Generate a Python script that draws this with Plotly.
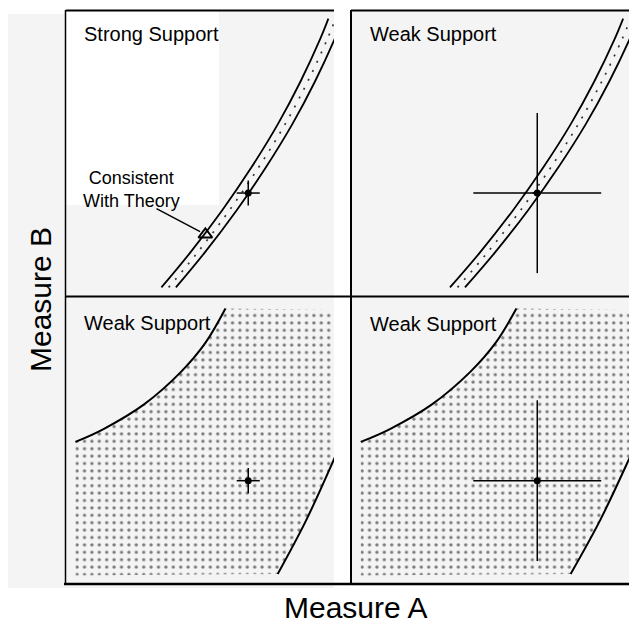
import plotly.graph_objects as go

W, H = 629, 624

# ---- data (nominal 0-10 measurement scales) ----
band_y = [0.3, 1.5, 3.0, 4.5, 6.0, 7.5, 9.0, 9.7]
band_left_x = [3.56, 4.62, 5.83, 6.92, 7.90, 8.75, 9.49, 9.79]
band_center_x = [3.83, 4.89, 6.10, 7.19, 8.17, 9.02, 9.76, 10.06]
band_right_x = [4.10, 5.16, 6.37, 7.46, 8.44, 9.29, 10.03, 10.33]

outer_upper_x = [0.35, 1.4, 2.9, 4.3, 5.2, 5.95]
outer_upper_y = [4.95, 5.4, 6.25, 7.4, 8.4, 9.6]
outer_lower_x = [7.9, 8.95, 10.0, 10.3]
outer_lower_y = [0.35, 2.2, 4.35, 5.0]
region_left, region_right, region_bottom, region_top = 0.35, 10.0, 0.3, 9.55

precise_x, precise_y = [6.8], [3.6]
precise_err_x, precise_err_y = 0.43, 0.44
imprecise_x, imprecise_y = [6.7], [3.6]
imprecise_err_x, imprecise_err_y = 2.3, 2.8

theory_point_x, theory_point_y = [5.2], [2.15]
arrow_tail = (3.32, 3.08)

panel_titles = ["Strong Support", "Weak Support", "Weak Support", "Weak Support"]

# ---- layout helpers ----
def px_x(p):
    return p / W

def px_y(p):
    return 1 - p / H

panels = {  # left, right, top, bottom in px
    1: (66, 334, 10, 296),
    2: (351, 629, 10, 296),
    3: (66, 334, 297, 584),
    4: (351, 629, 297, 584),
}

FONT = "Arial, Liberation Sans, sans-serif"
fig = go.Figure()

def ax(i):
    return ("x" if i == 1 else f"x{i}"), ("y" if i == 1 else f"y{i}")

for i in (1, 2):
    xa, ya = ax(i)
    fig.add_trace(go.Scatter(x=band_left_x, y=band_y, mode="lines", line=dict(color="black", width=1.8, shape="spline"),
                             xaxis=xa, yaxis=ya, showlegend=False, hoverinfo="skip"))
    fig.add_trace(go.Scatter(x=band_right_x, y=band_y, mode="lines", line=dict(color="black", width=1.8, shape="spline"),
                             xaxis=xa, yaxis=ya, showlegend=False, hoverinfo="skip"))
    fig.add_trace(go.Scatter(x=band_center_x, y=band_y, mode="lines",
                             line=dict(color="#333", width=1.7, dash="2px,8px", shape="spline"),
                             xaxis=xa, yaxis=ya, showlegend=False, hoverinfo="skip"))

for i in (3, 4):
    xa, ya = ax(i)
    rx = [region_left] + outer_upper_x + [region_right, region_right] + [outer_lower_x[1], outer_lower_x[0]] + [region_left]
    ry = [outer_upper_y[0]] + outer_upper_y + [region_top, outer_lower_y[2]] + [outer_lower_y[1], outer_lower_y[0]] + [region_bottom]
    fig.add_trace(go.Scatter(x=rx, y=ry, mode="lines", fill="toself", line=dict(width=0, color="rgba(0,0,0,0)"),
                             fillcolor="rgba(0,0,0,0)",
                             fillpattern=dict(shape=".", size=7.4, solidity=0.16, fgcolor="#000",
                                              bgcolor="rgba(0,0,0,0)"),
                             xaxis=xa, yaxis=ya, showlegend=False, hoverinfo="skip"))
    fig.add_trace(go.Scatter(x=outer_upper_x, y=outer_upper_y, mode="lines", line=dict(color="black", width=2, shape="spline"),
                             xaxis=xa, yaxis=ya, showlegend=False, hoverinfo="skip"))
    fig.add_trace(go.Scatter(x=outer_lower_x, y=outer_lower_y, mode="lines", line=dict(color="black", width=2, shape="spline"),
                             xaxis=xa, yaxis=ya, showlegend=False, hoverinfo="skip"))

# measurements
for i, (mx, my, ex, ey) in {
    1: (precise_x, precise_y, precise_err_x, precise_err_y),
    2: (imprecise_x, imprecise_y, imprecise_err_x, imprecise_err_y),
    3: (precise_x, precise_y, precise_err_x, precise_err_y),
    4: (imprecise_x, imprecise_y, imprecise_err_x, imprecise_err_y),
}.items():
    xa, ya = ax(i)
    fig.add_trace(go.Scatter(x=mx, y=my, mode="markers", marker=dict(color="black", size=7),
                             error_x=dict(type="constant", value=ex, color="black", thickness=1.5, width=0),
                             error_y=dict(type="constant", value=ey, color="black", thickness=1.5, width=0),
                             xaxis=xa, yaxis=ya, showlegend=False, hoverinfo="skip"))

fig.add_trace(go.Scatter(x=theory_point_x, y=theory_point_y, mode="markers",
                         marker=dict(symbol="triangle-up-open", size=12, color="black", line=dict(width=2, color="black")),
                         xaxis="x", yaxis="y", showlegend=False, hoverinfo="skip"))

# axes
layout_axes = {}
for i, (l, r, t, b) in panels.items():
    xname = "xaxis" if i == 1 else f"xaxis{i}"
    yname = "yaxis" if i == 1 else f"yaxis{i}"
    xa, ya = ax(i)
    layout_axes[xname] = dict(domain=[px_x(l), px_x(r)], range=[0, 10], showgrid=False, zeroline=False,
                              showticklabels=False, ticks="", showline=False, anchor=ya, fixedrange=True)
    layout_axes[yname] = dict(domain=[px_y(b), px_y(t)], range=[0, 10], showgrid=False, zeroline=False,
                              showticklabels=False, ticks="", showline=False, anchor=xa, fixedrange=True)

GRAY = "#f4f4f4"
shapes = [
    dict(type="rect", xref="paper", yref="paper", x0=px_x(8), x1=px_x(334), y0=px_y(588), y1=px_y(14),
         fillcolor=GRAY, line=dict(width=0), layer="below"),
    dict(type="rect", xref="paper", yref="paper", x0=px_x(66), x1=px_x(334), y0=px_y(588), y1=px_y(10),
         fillcolor=GRAY, line=dict(width=0), layer="below"),
    dict(type="rect", xref="paper", yref="paper", x0=px_x(351), x1=px_x(629), y0=px_y(586), y1=px_y(10),
         fillcolor=GRAY, line=dict(width=0), layer="below"),
    dict(type="rect", xref="paper", yref="paper", x0=px_x(66), x1=px_x(219), y0=px_y(205), y1=px_y(10),
         fillcolor="white", line=dict(width=0), layer="below"),
]

def hline(x0, x1, y, w):
    return dict(type="line", xref="paper", yref="paper", x0=px_x(x0), x1=px_x(x1), y0=px_y(y), y1=px_y(y),
                line=dict(color="black", width=w))

def vline(x, y0, y1, w):
    return dict(type="line", xref="paper", yref="paper", x0=px_x(x), x1=px_x(x), y0=px_y(y0), y1=px_y(y1),
                line=dict(color="black", width=w))

shapes += [
    hline(66, 334, 10.5, 2), hline(351, 629, 10.5, 2),
    hline(66, 629, 296.5, 2), hline(64, 629, 584, 2.5),
    vline(65.5, 10, 585, 1.5), vline(351, 10, 585, 2),
]

annotations = []
title_pos = [(82, 21), (368, 21), (82, 310), (368, 311)]
for (x0, y0), txt in zip(title_pos, panel_titles):
    annotations.append(dict(text=txt, xref="paper", yref="paper", x=px_x(x0), y=px_y(y0), xanchor="left",
                            yanchor="top", showarrow=False, font=dict(family=FONT, size=20, color="black")))

annotations.append(dict(text="Consistent<br>With Theory", xref="paper", yref="paper", x=px_x(131), y=px_y(189),
                        xanchor="center", yanchor="middle", showarrow=False,
                        font=dict(family=FONT, size=18, color="black")))
annotations.append(dict(text="", x=theory_point_x[0], y=theory_point_y[0], xref="x", yref="y",
                        ax=arrow_tail[0], ay=arrow_tail[1], axref="x", ayref="y", showarrow=True,
                        arrowhead=0, arrowwidth=1.5, arrowcolor="black", standoff=6))

annotations.append(dict(text="Measure B", xref="paper", yref="paper", x=px_x(40), y=px_y(300), textangle=-90,
                        xanchor="center", yanchor="middle", showarrow=False,
                        font=dict(family=FONT, size=30, color="black")))
annotations.append(dict(text="Measure A", xref="paper", yref="paper", x=px_x(355), y=px_y(607),
                        xanchor="center", yanchor="middle", showarrow=False,
                        font=dict(family=FONT, size=30, color="black")))

fig.update_layout(width=W, height=H, autosize=False, margin=dict(l=0, r=0, t=0, b=0),
                  paper_bgcolor="white", plot_bgcolor="rgba(0,0,0,0)",
                  shapes=shapes, annotations=annotations, **layout_axes)

fig.write_html("out.html", config={"displayModeBar": False},
               post_script="document.body.style.margin='0';document.body.style.overflow='hidden';")
